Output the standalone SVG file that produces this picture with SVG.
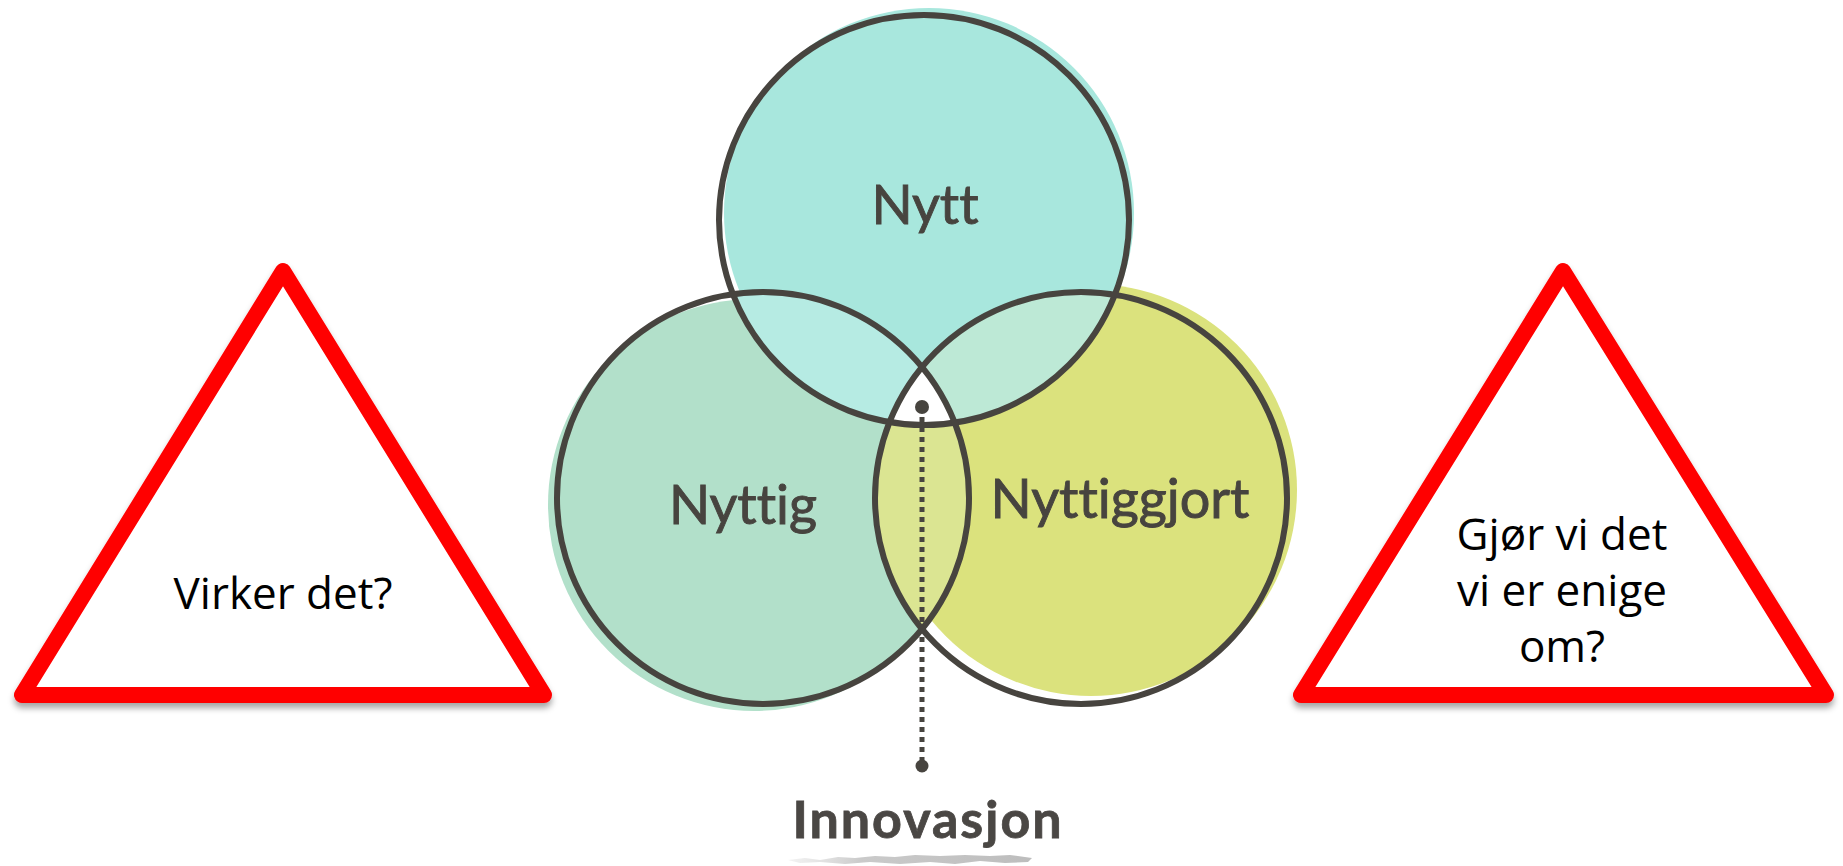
<svg xmlns="http://www.w3.org/2000/svg" width="1843" height="866" viewBox="0 0 1843 866">
  <style>
    .outline { fill: none; stroke: #47443f; stroke-width: 6; }
    .lbl { font-family: Lato, "Noto Sans", sans-serif; font-size: 54px; fill: #47443f; stroke: #47443f; stroke-width: 0.9; text-anchor: middle; font-variant-ligatures: none; font-feature-settings: "liga" 0; }
    .inno { font-family: Lato, "Noto Sans", sans-serif; font-size: 52px; font-weight: 700; fill: #4a4744; stroke: #4a4744; stroke-width: 0.8; text-anchor: middle; letter-spacing: 2px; font-variant-ligatures: none; }
    .tri { fill: #ffffff; stroke: #ff0000; stroke-width: 16; stroke-linejoin: round; }
    .q { font-family: "Open Sans", "Noto Sans", sans-serif; font-size: 44px; fill: #000000; text-anchor: middle; }
  </style>
  <defs>
    <filter id="shadow" x="-10%" y="-10%" width="120%" height="130%">
      <feDropShadow dx="0" dy="5" stdDeviation="3" flood-color="#000000" flood-opacity="0.35"/>
    </filter>
    <linearGradient id="smudge" x1="0" y1="0" x2="1" y2="0">
      <stop offset="0" stop-color="#d6d6d6" stop-opacity="0.3"/>
      <stop offset="0.3" stop-color="#c4c4c4" stop-opacity="0.9"/>
      <stop offset="1" stop-color="#bdbdbd" stop-opacity="1"/>
    </linearGradient>
    <clipPath id="cT"><circle cx="924" cy="220" r="205"/></clipPath>
    <clipPath id="cL"><circle cx="763" cy="498" r="206"/></clipPath>
    <clipPath id="cR"><circle cx="1081" cy="498" r="206"/></clipPath>
  </defs>
  <rect x="0" y="0" width="1843" height="866" fill="#ffffff"/>

  <g id="triangle-left">
    <polygon class="tri" filter="url(#shadow)" points="283,271 22,695 544,695"/>
    <text class="q" x="283" y="609">Virker det?</text>
  </g>

  <g id="triangle-right">
    <polygon class="tri" filter="url(#shadow)" points="1563,271 1301,695 1826,695"/>
    <text class="q" x="1562" y="550">Gjør vi det</text>
    <text class="q" x="1562" y="606">vi er enige</text>
    <text class="q" x="1562" y="662">om?</text>
  </g>

  <g id="venn-fills">
    <circle cx="754" cy="505" r="206" fill="#b2e0ca"/>
    <circle cx="1091" cy="490" r="206" fill="#dbe27d"/>
    <circle cx="929" cy="213" r="205" fill="#a8e7dd"/>
    <g clip-path="url(#cT)"><circle cx="763" cy="498" r="206" fill="#b6ebe3"/></g>
    <g clip-path="url(#cT)"><circle cx="1081" cy="498" r="206" fill="#bde9d6"/></g>
    <g clip-path="url(#cL)"><circle cx="1081" cy="498" r="206" fill="#dbe592"/></g>
    <g clip-path="url(#cT)"><g clip-path="url(#cL)"><circle cx="1081" cy="498" r="206" fill="#ffffff"/></g></g>
  </g>

  <g id="node-nytt">
    <circle class="outline" cx="924" cy="220" r="205"/>
    <text class="lbl" x="925" y="224">Nytt</text>
  </g>
  <g id="node-nyttig">
    <circle class="outline" cx="763" cy="498" r="206"/>
    <text class="lbl" x="743" y="524">Nyttig</text>
  </g>
  <g id="node-nyttiggjort">
    <circle class="outline" cx="1081" cy="498" r="206"/>
    <text class="lbl" x="1120" y="518">Nyttiggjort</text>
  </g>

  <g id="connectors">
    <line x1="922" y1="417" x2="922" y2="760" stroke="#47443f" stroke-width="5" stroke-dasharray="5 5"/>
    <circle cx="922" cy="407" r="7" fill="#47443f"/>
    <circle cx="922" cy="766" r="6.5" fill="#47443f"/>
  </g>

  <g id="node-innovasjon">
    <path d="M788,860 L805,858 L820,860 L838,857 L855,858 L875,856 L895,857 L915,855 L940,856 L965,855 L990,856 L1010,855 L1032,858 L1028,862 L1005,863 L980,861 L955,864 L930,862 L900,864 L870,862 L845,864 L820,862 L800,863 Z" fill="url(#smudge)"/>
    <text class="inno" x="928" y="838">Innovasjon</text>
  </g>
</svg>
